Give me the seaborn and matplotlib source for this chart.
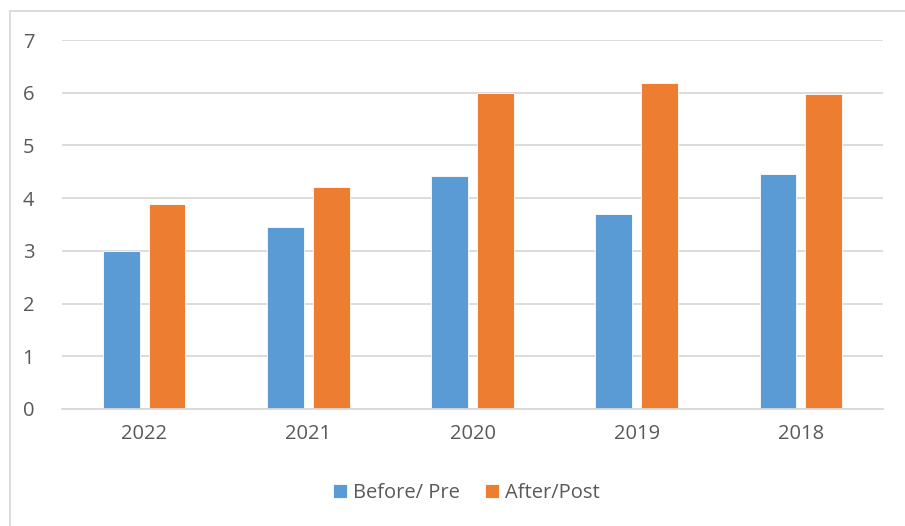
import pandas as pd
import matplotlib.pyplot as plt
import seaborn as sns
from matplotlib.patches import Rectangle

# data
years = ['2022', '2021', '2020', '2019', '2018']
before_pre = [3.00, 3.45, 4.42, 3.69, 4.46]
after_post = [3.89, 4.21, 6.00, 6.18, 5.98]
series_names = ['Before/ Pre', 'After/Post']
colors = ['#5B9BD5', '#ED7D31']

df = pd.DataFrame({
    'year': years * 2,
    'value': before_pre + after_post,
    'series': [series_names[0]] * len(years) + [series_names[1]] * len(years),
})

sns.set_style('white')
plt.rcParams['font.family'] = ['Open Sans', 'DejaVu Sans']

fig = plt.figure(figsize=(9.05, 5.26), dpi=100)
ax = fig.add_axes([62 / 905, (526 - 409) / 526, (883 - 62) / 905, (409 - 40) / 526])

sns.barplot(data=df, x='year', y='value', hue='series', order=years,
            hue_order=series_names, palette=colors, width=0.56, gap=0.2,
            saturation=1, edgecolor='white', linewidth=0.6, ax=ax)

ax.set_ylim(0, 7)
ax.set_yticks(range(8))
ax.set_xlabel('')
ax.set_ylabel('')
ax.grid(axis='y', color='#d9d9d9', linewidth=1.3)
ax.set_axisbelow(True)
for s in ['top', 'right', 'left']:
    ax.spines[s].set_visible(False)
ax.spines['bottom'].set_color('#d9d9d9')
ax.spines['bottom'].set_linewidth(1.3)
ax.tick_params(axis='both', length=0, labelsize=14.5, colors='#595959')
ax.tick_params(axis='x', pad=11)
ax.tick_params(axis='y', pad=20)

leg = ax.legend(loc='center', bbox_to_anchor=(0.4925, -0.228), ncol=2, frameon=False,
                fontsize=14.5, handlelength=0.7, handleheight=0.7, handletextpad=0.3,
                columnspacing=1.25)
for t in leg.get_texts():
    t.set_color('#595959')

# outer chart border
fig.patches.append(Rectangle((10 / 905, -0.1), 1.0, 1.1 - 11 / 526,
                             transform=fig.transFigure, fill=False,
                             edgecolor='#d9d9d9', linewidth=1.3))

fig.savefig('out.png', dpi=100)
